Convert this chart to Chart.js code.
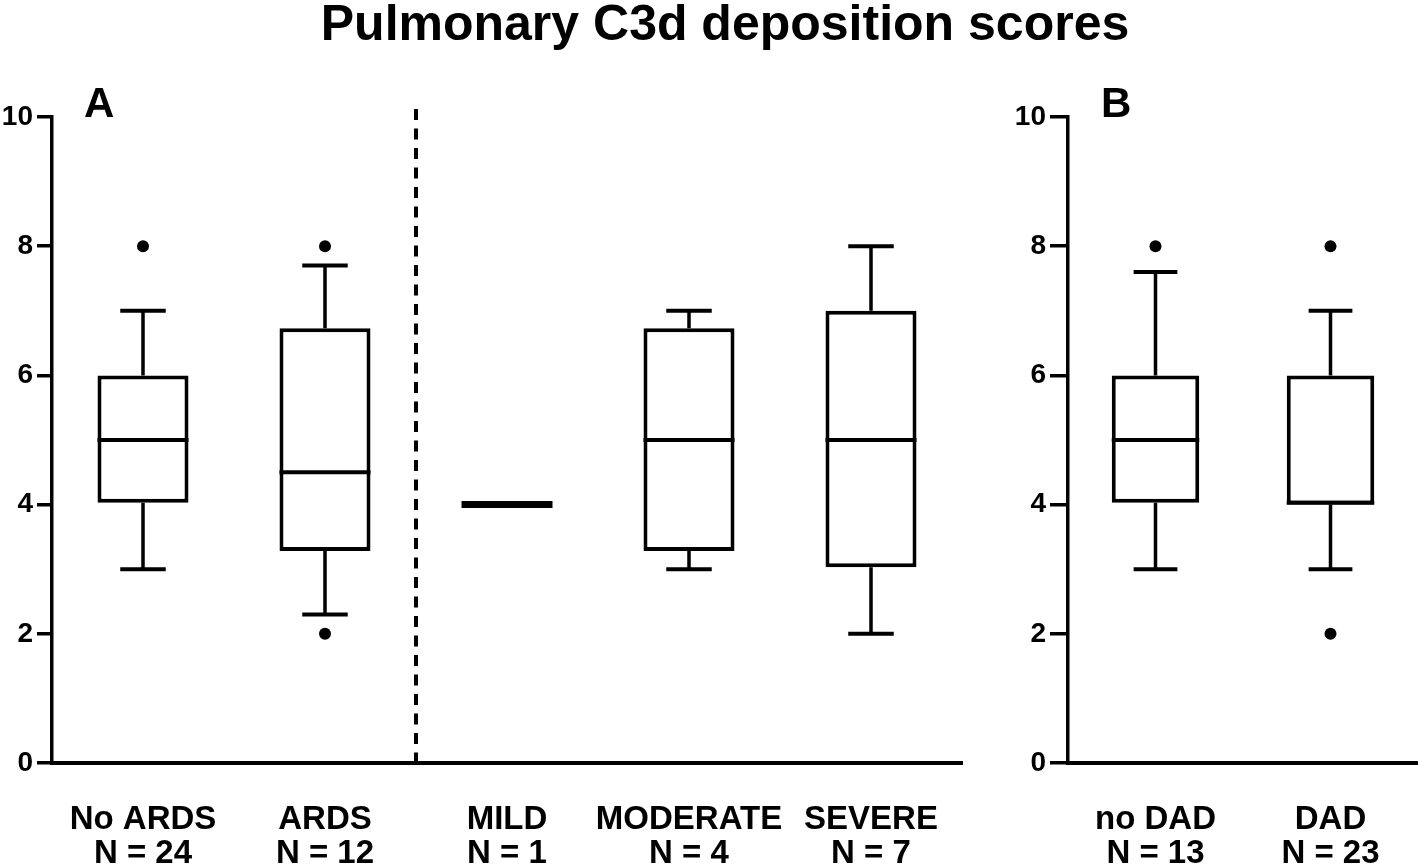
<!DOCTYPE html>
<html>
<head>
<meta charset="utf-8">
<script src="https://cdn.jsdelivr.net/npm/chart.js@4.4.1/dist/chart.umd.min.js"></script>
<style>
  body { margin: 0; background: #fff; }
  #wrap { position: relative; width: 1418px; height: 867px; overflow: hidden; background: #fff; }
  canvas { position: absolute; top: 0; }
  .txt { position: absolute; font-family: "Liberation Sans", Arial, sans-serif; font-weight: bold; color: #000; line-height: 1; white-space: nowrap; }
  #title { left: 0; width: 1450px; text-align: center; top: -2px; font-size: 50px; }
  .panel { font-size: 42px; top: 82px; }
</style>
</head>
<body>
<div id="wrap">
  <canvas id="chartA" width="990" height="867" style="left:0"></canvas>
  <canvas id="chartB" width="434" height="867" style="left:990px"></canvas>
  <div id="title" class="txt">Pulmonary C3d deposition scores</div>
  <div class="txt panel" style="left:84px">A</div>
  <div class="txt panel" style="left:1101px">B</div>
</div>
<script>
// panel A: ARDS / Berlin severity
const labelsA = ['No ARDS', 'ARDS', 'MILD', 'MODERATE', 'SEVERE'];
const countsA = [24, 12, 1, 4, 7];
const lowA = [3, 2.3, 4, 3, 2];
const q1A = [4.03, 3.28, 4, 3.28, 3.03];
const medianA = [5, 4.5, 4, 5, 5];
const q3A = [6, 6.73, 4, 6.73, 7];
const highA = [7, 7.7, 4, 7, 8];
const outliersA = [['No ARDS', 8], ['ARDS', 8], ['ARDS', 2]];

// panel B: diffuse alveolar damage
const labelsB = ['no DAD', 'DAD'];
const countsB = [13, 23];
const lowB = [3, 3];
const q1B = [4.03, 4];
const medianB = [5, 4.03];
const q3B = [6, 6];
const highB = [7.6, 7];
const outliersB = [['no DAD', 8], ['DAD', 8], ['DAD', 2]];

const yTicks = [0, 2, 4, 6, 8, 10];

const FONT = '"Liberation Sans", Arial, sans-serif';

function boxPlugin(stats, dividerAfter) {
    return {
        id: 'boxWhiskers',
        afterDatasetsDraw(chart) {
            const ctx = chart.ctx;
            const x = chart.scales.x;
            const y = chart.scales.y;
            const step = (x.right - x.left) / stats.low.length;
            ctx.save();
            ctx.strokeStyle = '#000';
            ctx.lineCap = 'butt';
            stats.low.forEach((lo, i) => {
                const cx = x.getPixelForValue(i);
                const halfBox = step * 0.25;
                const halfCap = step * 0.125;
                if (stats.q1[i] === stats.q3[i] && lo === stats.high[i]) {
                    // single observation: thick bar only
                    ctx.lineWidth = 7;
                    ctx.beginPath();
                    ctx.moveTo(cx - halfBox, y.getPixelForValue(stats.median[i]));
                    ctx.lineTo(cx + halfBox, y.getPixelForValue(stats.median[i]));
                    ctx.stroke();
                    return;
                }
                // whiskers
                ctx.lineWidth = 3.5;
                ctx.beginPath();
                ctx.moveTo(cx, y.getPixelForValue(lo));
                ctx.lineTo(cx, y.getPixelForValue(stats.q1[i]));
                ctx.moveTo(cx, y.getPixelForValue(stats.q3[i]));
                ctx.lineTo(cx, y.getPixelForValue(stats.high[i]));
                ctx.stroke();
                // caps
                ctx.lineWidth = 4;
                ctx.beginPath();
                ctx.moveTo(cx - halfCap, y.getPixelForValue(lo));
                ctx.lineTo(cx + halfCap, y.getPixelForValue(lo));
                ctx.moveTo(cx - halfCap, y.getPixelForValue(stats.high[i]));
                ctx.lineTo(cx + halfCap, y.getPixelForValue(stats.high[i]));
                ctx.stroke();
                // median
                ctx.beginPath();
                ctx.moveTo(cx - halfBox, y.getPixelForValue(stats.median[i]));
                ctx.lineTo(cx + halfBox, y.getPixelForValue(stats.median[i]));
                ctx.stroke();
            });
            if (dividerAfter !== null) {
                const dx = (x.getPixelForValue(dividerAfter) + x.getPixelForValue(dividerAfter + 1)) / 2;
                ctx.lineWidth = 4;
                ctx.setLineDash([11, 8.5]);
                ctx.beginPath();
                ctx.moveTo(dx, chart.chartArea.top - 8);
                ctx.lineTo(dx, chart.chartArea.bottom);
                ctx.stroke();
            }
            ctx.restore();
        }
    };
}

function makeChart(id, labels, counts, stats, outliers, opts) {
    const ctx = document.getElementById(id).getContext('2d');
    return new Chart(ctx, {
        type: 'bar',
        data: {
            labels: labels,
            datasets: [{
                label: 'IQR',
                data: labels.map((_, i) => stats.q1[i] === stats.q3[i] ? null : [stats.q1[i], stats.q3[i]]),
                backgroundColor: '#fff',
                borderColor: '#000',
                borderWidth: 4,
                borderSkipped: false,
                barPercentage: 0.5,
                categoryPercentage: 1
            }, {
                type: 'line',
                label: 'Outliers',
                data: outliers.map(o => ({ x: o[0], y: o[1] })),
                showLine: false,
                pointRadius: 6,
                pointBackgroundColor: '#000',
                pointBorderWidth: 0
            }]
        },
        options: {
            responsive: false,
            animation: false,
            layout: { padding: { top: 117, left: 0, right: opts.right, bottom: 0 } },
            plugins: { legend: { display: false }, tooltip: { enabled: false } },
            scales: {
                x: {
                    offset: true,
                    grid: { display: false, drawTicks: false },
                    border: { display: true, color: '#000', width: 4 },
                    ticks: {
                        color: '#000',
                        padding: 40,
                        maxRotation: 0,
                        autoSkip: false,
                        font: { family: FONT, size: 33, weight: 'bold', lineHeight: 1.03 },
                        callback: (v, i) => [labels[i], 'N = ' + counts[i]]
                    },
                    afterFit: s => { s.height = 104; s.paddingLeft = 0; s.paddingRight = 0; }
                },
                y: {
                    min: 0,
                    max: 10,
                    afterBuildTicks: s => { s.ticks = yTicks.map(v => ({ value: v })); },
                    grid: { display: true, drawOnChartArea: false, drawTicks: true, tickLength: opts.tick, color: '#000', lineWidth: 3.5 },
                    border: { display: true, color: '#000', width: 3.5 },
                    ticks: {
                        color: '#000',
                        padding: 4,
                        font: { family: FONT, size: 28, weight: 'bold' }
                    },
                    afterFit: s => { s.width = opts.axisW; s.paddingTop = 0; s.paddingBottom = 0; }
                }
            }
        },
        plugins: [boxPlugin(stats, opts.divider)]
    });
}

makeChart('chartA', labelsA, countsA,
    { low: lowA, q1: q1A, median: medianA, q3: q3A, high: highA },
    outliersA, { right: 28, axisW: 52, tick: 15, divider: 1 });

makeChart('chartB', labelsB, countsB,
    { low: lowB, q1: q1B, median: medianB, q3: q3B, high: highB },
    outliersB, { right: 0, axisW: 78, tick: 18, divider: null });
</script>
</body>
</html>
